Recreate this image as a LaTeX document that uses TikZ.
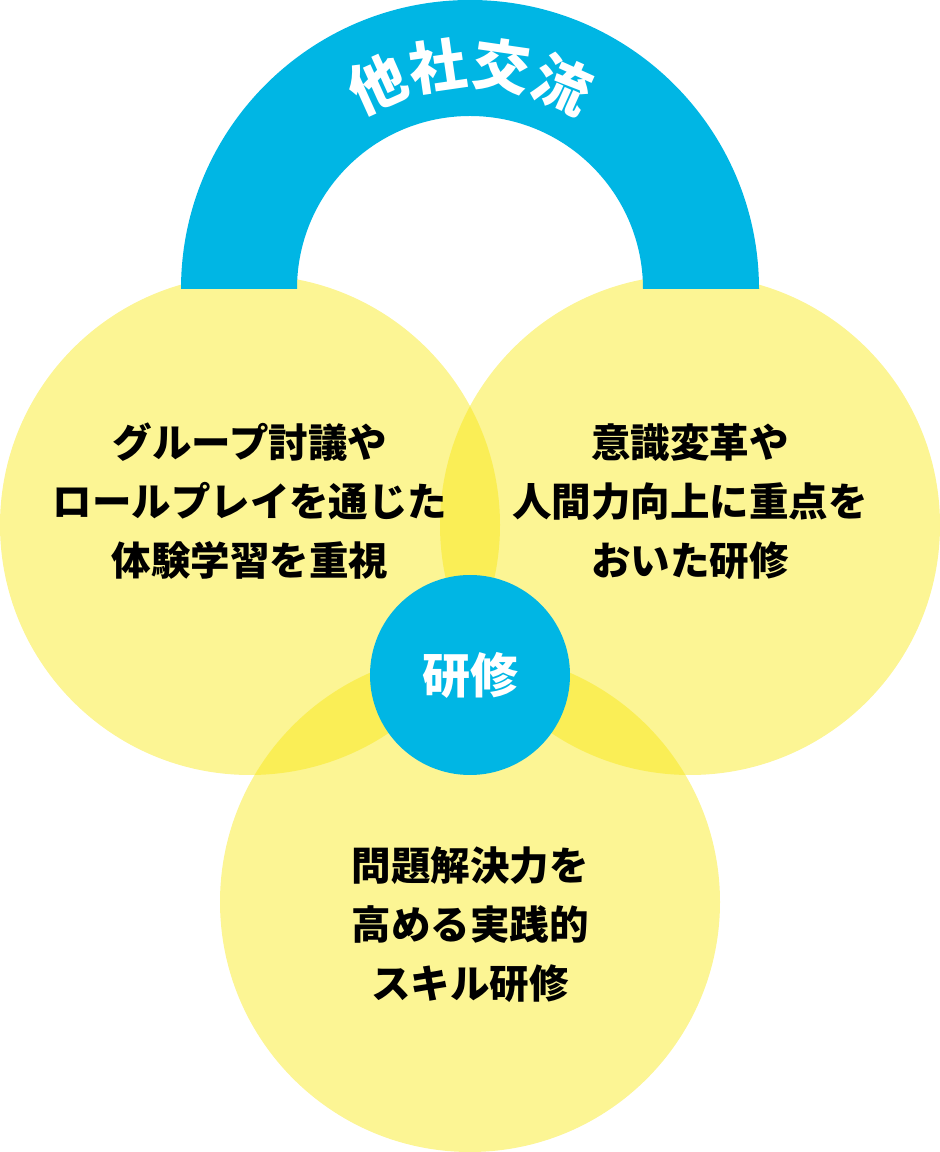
\documentclass[tikz,border=0pt]{standalone}
\usepackage{fontspec}
\setmainfont{Noto Sans CJK JP}
\usepackage{xcolor}
\definecolor{seblue}{RGB}{0,182,228}
\definecolor{seyellow}{RGB}{247,230,0}
\usepackage{tikz}
\usetikzlibrary{positioning}
\tikzset{
  every picture/.style={line cap=round, line join=round},
  bubble/.style={fill=seyellow, fill opacity=0.42},
  bodytxt/.style={font=\bfseries\fontsize{39.5}{59}\selectfont, align=center, text=black},
  hubtxt/.style={font=\bfseries\fontsize{48}{48}\selectfont, text=white},
  archtxt/.style={font=\bfseries\fontsize{57}{57}\selectfont, text=white, inner sep=0pt},
}

\begin{document}
\begin{tikzpicture}[x=1pt, y=1pt]
\useasboundingbox (0,0) rectangle (940,1152);
% three overlapping circles
\fill[bubble] (250,627) circle (250);
\fill[bubble] (690,627) circle (250);
\fill[bubble] (470,250) circle (250);
% the arch on top
\coordinate (archc) at (470,863);
\fill[seblue] (181,863) arc[start angle=180, end angle=0, radius=289]
  -- (643,863) arc[start angle=0, end angle=180, radius=173] -- cycle;
\foreach \ch/\ang [count=\i] in {他/114.3, 社/98.2, 交/81.8, 流/65.7} {
  \node[archtxt, rotate=\ang-90] (title\i) at ([shift={(\ang:225)}] archc) {\ch};
}
% texts in the circles
\node[bodytxt] (left) at (250,651) {グループ討議や\\ロールプレイを通じた\\体験学習を重視};
\node[bodytxt] (right) at (690,650) {意識変革や\\人間力向上に重点を\\おいた研修};
\node[bodytxt] (bottom) at (470,227) {問題解決力を\\高める実践的\\スキル研修};
% hub
\node[circle, fill=seblue, minimum size=200pt, inner sep=0pt, hubtxt] (hub) at (470,477) {研修};
\end{tikzpicture}
\end{document}
